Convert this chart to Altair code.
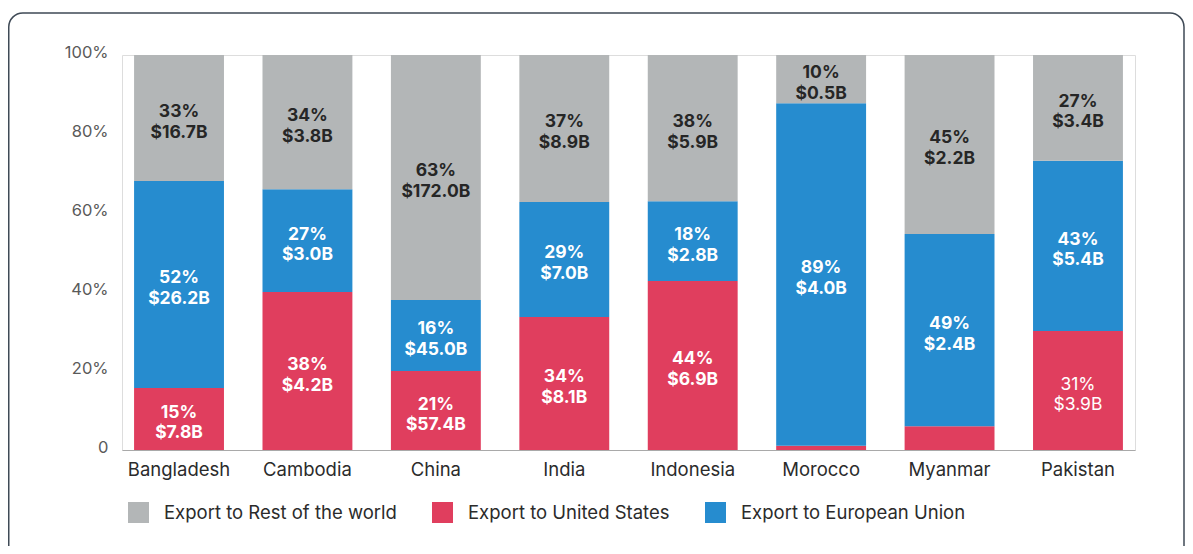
import altair as alt
import pandas as pd

countries = ["Bangladesh", "Cambodia", "China", "India", "Indonesia", "Morocco", "Myanmar", "Pakistan"]
series = ["Export to Rest of the world", "Export to United States", "Export to European Union"]
colors = ["#b3b6b7", "#e03e5e", "#268ccf"]

# segment heights (% of each bar)
us_pct = [15.7, 40.0, 20.0, 33.7, 42.8, 1.1, 6.0, 30.1]
eu_pct = [52.4, 26.0, 18.0, 29.1, 20.2, 86.7, 48.7, 43.1]
rest_pct = [31.9, 34.0, 62.0, 37.2, 37.0, 12.2, 45.3, 26.8]

us_labels = ["15%\n$7.8B", "38%\n$4.2B", "21%\n$57.4B", "34%\n$8.1B", "44%\n$6.9B", "", "", "31%\n$3.9B"]
eu_labels = ["52%\n$26.2B", "27%\n$3.0B", "16%\n$45.0B", "29%\n$7.0B", "18%\n$2.8B", "89%\n$4.0B", "49%\n$2.4B", "43%\n$5.4B"]
rest_labels = ["33%\n$16.7B", "34%\n$3.8B", "63%\n$172.0B", "37%\n$8.9B", "38%\n$5.9B", "10%\n$0.5B", "45%\n$2.2B", "27%\n$3.4B"]

y_ticks = [0, 20, 40, 60, 80, 100]

rows = []
for i, c in enumerate(countries):
    base = 0.0
    for order, (s, vals, labs) in enumerate([
        (series[1], us_pct, us_labels),
        (series[2], eu_pct, eu_labels),
        (series[0], rest_pct, rest_labels),
    ]):
        v = vals[i]
        rows.append({
            "country": c, "series": s, "value": v, "ord": order,
            "mid": base + v / 2, "label": labs[i],
            "tcolor": "#262626" if s == series[0] else "#ffffff",
            "bold": not (c == "Pakistan" and s == series[1]),
        })
        base += v
df = pd.DataFrame(rows)

W, H = 1013, 395
FONT = "Inter"

x_enc = alt.X("country:N", sort=countries,
              scale=alt.Scale(paddingInner=0.3, paddingOuter=0.094),
              axis=alt.Axis(title=None, labelAngle=0, ticks=False, domainColor="#a9a9a9",
                            domainWidth=1.2, labelFontSize=18.5, labelColor="#2b2b2b",
                            labelPadding=10, labelFont=FONT))

bars = alt.Chart(df).mark_bar().encode(
    x=x_enc,
    y=alt.Y("value:Q", stack="zero", scale=alt.Scale(domain=[0, 100], nice=False),
            axis=alt.Axis(title=None, values=y_ticks, grid=False, domain=False, ticks=False,
                          labelExpr="datum.value == 0 ? '0' : datum.value + '%'",
                          labelFontSize=16.5, labelColor="#5a5a5a", labelPadding=14,
                          labelOffset=-3, labelFont=FONT)),
    color=alt.Color("series:N", scale=alt.Scale(domain=series, range=colors),
                    legend=alt.Legend(title=None, orient="none", direction="horizontal",
                                      legendX=6, legendY=447, symbolType="square",
                                      symbolSize=441, symbolStrokeWidth=0,
                                      labelFontSize=18.5, labelColor="#2b2b2b",
                                      labelOffset=15, columnPadding=35, padding=0,
                                      labelFont=FONT, labelLimit=400)),
    order=alt.Order("ord:Q"),
)

def text_layer(bold):
    return alt.Chart(df).transform_filter(
        alt.datum.bold == bold
    ).mark_text(lineBreak="\n", fontSize=17.5, lineHeight=20.5, baseline="middle",
                align="center", dy=-6, font=FONT,
                fontWeight="bold" if bold else "normal").encode(
        x=alt.X("country:N", sort=countries),
        y=alt.Y("mid:Q"),
        text="label:N",
        color=alt.Color("tcolor:N", scale=None),
    )

border = alt.Chart(pd.DataFrame({"a": [0]})).mark_rect(
    fill=None, stroke="#3f4a56", strokeWidth=1.5, cornerRadius=14
).encode(
    x=alt.value(-113.25), x2=alt.value(1062), y=alt.value(-42), y2=alt.value(600)
)

chart = alt.layer(border, bars, text_layer(True), text_layer(False)).properties(
    width=W, height=H,
    autosize=alt.AutoSizeParams(type="none"),
    padding={"left": 114, "top": 47, "right": 50, "bottom": 96},
).configure_view(stroke=None).configure(background="white")

chart.save("out.html", embed_options={"renderer": "svg", "actions": False})
